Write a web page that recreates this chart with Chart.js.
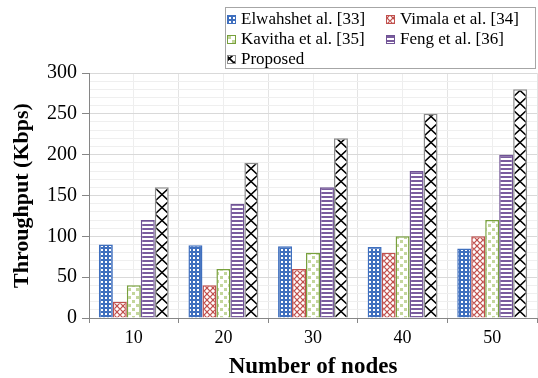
<!DOCTYPE html>
<html>
<head>
<meta charset="utf-8">
<script src="https://cdn.jsdelivr.net/npm/chart.js@4/dist/chart.umd.min.js"></script>
<style>
  html, body { margin: 0; padding: 0; background: #ffffff; }
  #wrap { width: 538px; height: 378px; position: relative; }
</style>
</head>
<body>
<div id="wrap"><canvas id="chart" width="538" height="378"></canvas></div>
<script>
// Throughput (Kbps) versus number of nodes
const nodeLabels = ['10', '20', '30', '40', '50'];
const seriesNames = ['Elwahshet al. [33]', 'Vimala et al. [34]', 'Kavitha et al. [35]', 'Feng et al. [36]', 'Proposed'];
const elwahshet = [90, 89, 88, 87, 85];
const vimala = [20, 40, 60, 80, 100];
const kavitha = [40, 60, 80, 100, 120];
const feng = [120, 140, 160, 180, 200];
const proposed = [160, 190, 220, 250, 280];
const yTicksMajor = [0, 50, 100, 150, 200, 250, 300];

const CAT_PCT = 0.78;
const SERIF = '"Liberation Serif", "Times New Roman", serif';

const canvas = document.getElementById('chart');
const ctx = canvas.getContext('2d');

// small repeating tiles used as bar fills
function tile(w, h, paint) {
  const c = document.createElement('canvas');
  c.width = w; c.height = h;
  const g = c.getContext('2d');
  paint(g, w, h);
  return c;
}

const dotTile = tile(4, 4, (g) => {
  g.fillStyle = '#3f6fbe'; g.fillRect(0, 0, 4, 4);
  g.fillStyle = '#ffffff'; g.fillRect(1, 1, 2, 2);
});
const diamondTile = tile(6, 6, (g) => {
  g.fillStyle = '#ffffff'; g.fillRect(0, 0, 6, 6);
  g.strokeStyle = '#c0504d'; g.lineWidth = 1.2;
  g.beginPath();
  g.moveTo(0, 3); g.lineTo(3, 0); g.lineTo(6, 3); g.lineTo(3, 6); g.closePath();
  g.stroke();
});
const checkTile = tile(8, 8, (g) => {
  g.fillStyle = '#ffffff'; g.fillRect(0, 0, 8, 8);
  g.fillStyle = '#c3d69b';
  g.fillRect(0, 0, 3, 3); g.fillRect(4, 4, 3, 3);
});
const stripeTile = tile(4, 4, (g) => {
  g.fillStyle = '#ffffff'; g.fillRect(0, 0, 4, 4);
  g.fillStyle = '#7a5c9e'; g.fillRect(0, 0, 4, 2);
});
function crossTile(w, h) {
  return tile(w, h, (g) => {
    g.fillStyle = '#ffffff'; g.fillRect(0, 0, w, h);
    g.strokeStyle = '#000000'; g.lineWidth = 1.6;
    g.beginPath();
    g.moveTo(0, 0); g.lineTo(w, h);
    g.moveTo(w, 0); g.lineTo(0, h);
    g.stroke();
  });
}

const dotFill = ctx.createPattern(dotTile, 'repeat');
const diamondFill = ctx.createPattern(diamondTile, 'repeat');
const checkFill = ctx.createPattern(checkTile, 'repeat');
const stripeFill = ctx.createPattern(stripeTile, 'repeat');
const crossLegend = ctx.createPattern(crossTile(9, 9), 'repeat');

// the cross-chain fill is lined up with each bar's left edge
const crossCache = {};
function crossFill(c) {
  const xs = c.chart.scales.x;
  if (!xs || c.dataIndex === undefined || !(xs.width > 50)) return crossLegend;
  const catW = xs.width / nodeLabels.length;
  const groupW = catW * CAT_PCT;
  const barW = groupW / 5;
  const left = xs.getPixelForValue(c.dataIndex) - groupW / 2 + 4 * barW;
  const key = c.dataIndex + ':' + left.toFixed(2);
  if (!crossCache[key]) {
    const p = ctx.createPattern(crossTile(Math.max(2, Math.round(barW)), 13), 'repeat');
    p.setTransform(new DOMMatrix().translate(Math.round(left), xs.top));
    crossCache[key] = p;
  }
  return crossCache[key];
}

const legendFills = [dotFill, diamondFill, checkFill, stripeFill, crossLegend];

// boxed two-column legend above the plot
const legendBox = {
  id: 'legendBox',
  afterDraw(chart) {
    const g = chart.ctx;
    g.save();
    g.strokeStyle = '#a6a6a6'; g.lineWidth = 1;
    g.strokeRect(225.5, 7.5, 310, 61);
    g.font = '17px ' + SERIF;
    g.textBaseline = 'middle';
    chart.data.datasets.forEach((ds, i) => {
      const col = i % 2, row = Math.floor(i / 2);
      const x = [227, 386][col];
      const y = 15 + row * 20;
      g.fillStyle = legendFills[i];
      g.fillRect(x, y, 9, 9);
      g.strokeStyle = ds.borderColor; g.lineWidth = 1;
      g.strokeRect(x + 0.5, y + 0.5, 8, 8);
      g.fillStyle = '#000000';
      g.fillText(ds.label, x + 14, y + 5);
    });
    g.restore();
  }
};

const isMajor = (v) => v % 50 === 0;

new Chart(canvas, {
  type: 'bar',
  data: {
    labels: nodeLabels,
    datasets: [
      { label: seriesNames[0], data: elwahshet, backgroundColor: dotFill, borderColor: '#3f6fbe', borderWidth: 1.5 },
      { label: seriesNames[1], data: vimala, backgroundColor: diamondFill, borderColor: '#c0504d', borderWidth: 1.5 },
      { label: seriesNames[2], data: kavitha, backgroundColor: checkFill, borderColor: '#77a03c', borderWidth: 1.5 },
      { label: seriesNames[3], data: feng, backgroundColor: stripeFill, borderColor: '#6f5394', borderWidth: 1.5 },
      { label: seriesNames[4], data: proposed, backgroundColor: crossFill, borderColor: '#8c8c8c', borderWidth: 1.5 }
    ]
  },
  options: {
    responsive: false,
    animation: false,
    events: [],
    layout: { padding: { top: 73, right: 1, left: 0, bottom: 0 } },
    datasets: { bar: { categoryPercentage: CAT_PCT, barPercentage: 1 } },
    plugins: { legend: { display: false }, tooltip: { enabled: false } },
    scales: {
      x: {
        type: 'category',
        position: 'bottom',
        weight: 1,
        offset: true,
        grid: { offset: true, color: '#e4e4e4', tickColor: '#868686', tickLength: 5 },
        border: { display: true, color: '#868686', width: 1 },
        ticks: { color: '#000000', font: { family: SERIF, size: 18 }, padding: 4 },
        title: { display: true, text: 'Number of nodes', color: '#000000', font: { family: SERIF, size: 23, weight: 'bold' }, padding: { top: 0, bottom: -3 } },
        afterFit(scale) { scale.height = 60; }
      },
      x2: {
        type: 'category',
        position: 'bottom',
        weight: 0,
        offset: true,
        labels: nodeLabels,
        grid: { offset: false, color: '#eeeeee', drawTicks: false },
        border: { display: false },
        ticks: { display: false },
        afterFit(scale) { scale.height = 0; }
      },
      y: {
        min: 0,
        max: 300,
        afterBuildTicks(scale) {
          const t = [];
          for (let v = 0; v <= 300; v += 10) t.push({ value: v });
          scale.ticks = t;
        },
        grid: {
          color: (c) => isMajor(c.tick.value) ? '#d9d9d9' : '#efefef',
          tickColor: (c) => isMajor(c.tick.value) ? '#868686' : 'rgba(0,0,0,0)',
          tickLength: 7
        },
        border: { display: true, color: '#868686', width: 1 },
        ticks: {
          autoSkip: false,
          color: '#000000',
          font: { family: SERIF, size: 20 },
          padding: 5,
          callback: (v) => yTicksMajor.includes(v) ? String(v) : ''
        },
        title: { display: true, text: 'Throughput (Kbps)', color: '#000000', font: { family: SERIF, size: 22, weight: 'bold' }, padding: { top: 9, bottom: 0 } },
        afterFit(scale) { scale.width = 89; }
      }
    }
  },
  plugins: [legendBox]
});
</script>
</body>
</html>
